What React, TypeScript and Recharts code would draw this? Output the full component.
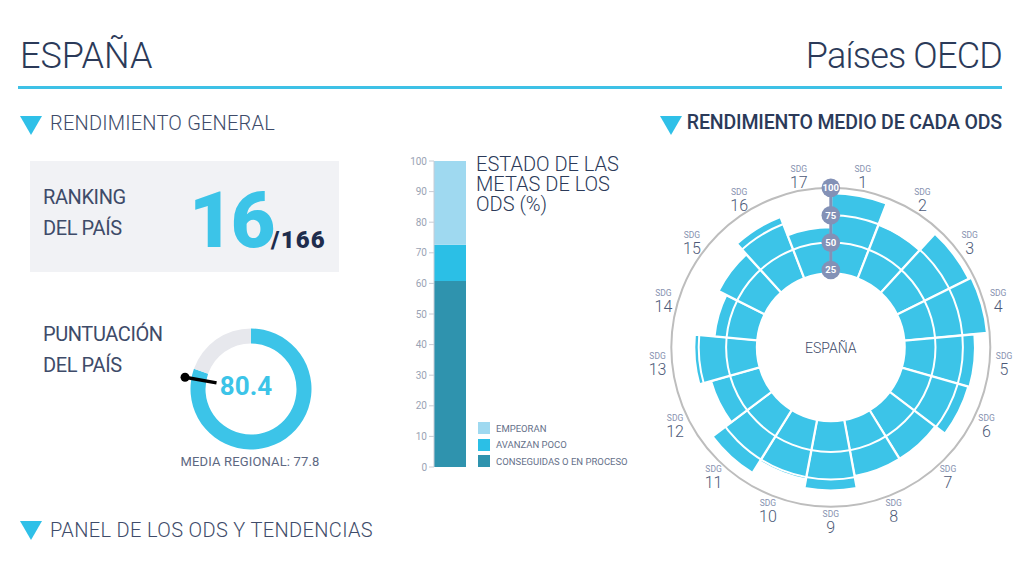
import React from 'react';
import {
  BarChart,
  Bar,
  XAxis,
  YAxis,
  PieChart,
  Pie,
  Cell,
  RadialBarChart,
  RadialBar,
  PolarAngleAxis,
  PolarRadiusAxis,
  PolarGrid,
} from 'recharts';

// headline numbers
const rankPosition = 16;
const rankTotal = 166;
const countryScore = 80.4;
const regionalAverage = 77.8;

// estado de las metas (%)
const statusKeys = ['conseguidas', 'avanzan', 'empeoran'];
const statusLabels = ['CONSEGUIDAS O EN PROCESO', 'AVANZAN POCO', 'EMPEORAN'];
const statusValues = [60.8, 11.8, 27.4];
const statusColors = ['#2f93ae', '#2bbfe6', '#9fd9f0'];
const statusTicks = [0, 10, 20, 30, 40, 50, 60, 70, 80, 90, 100];
const statusTitle = ['ESTADO DE LAS', 'METAS DE LOS', 'ODS (%)'];

// rendimiento medio de cada ODS
const sdgNames = ['1', '2', '3', '4', '5', '6', '7', '8', '9', '10', '11', '12', '13', '14', '15', '16', '17'];
const sdgScores = [95, 74.5, 95, 97.5, 86, 85, 74, 74, 85, 77, 89.5, 68, 79, 61, 69, 82, 64];
const scoreTicks = [25, 50, 75, 100];

const BLUE = '#3cc4e8';
const NAVY = '#2b3a59';
const FONT = 'Roboto, sans-serif';

const R_MIN = 22;
const R_MAX = 100;
const INNER_R = 74;
const OUTER_R = 159.5;
const ringRadius = (v: number) => INNER_R + ((v - R_MIN) / (R_MAX - R_MIN)) * (OUTER_R - INNER_R);

// each bar is drawn counter-clockwise from its tick, so turn the axis by one band
const BAND = 360 / sdgNames.length;
const RADIAL_CX = 190.8;
const RADIAL_CY = 189.3;
const LABEL_R = 174;

const statusData = [
  statusKeys.reduce((acc: any, k, i) => {
    acc[k] = statusValues[i];
    return acc;
  }, { name: 'ODS' }),
];

const gaugeData = [{ value: countryScore }, { value: 100 - countryScore }];
const needleData = [{ value: regionalAverage }, { value: 100 - regionalAverage }];

const sdgData = sdgNames.map((name, i) => ({ name, score: sdgScores[i] }));

const RAD = Math.PI / 180;

function renderNeedle(props: any) {
  const { cx, cy, endAngle, innerRadius, outerRadius, index } = props;
  if (index !== 0) return null;
  const x1 = cx + innerRadius * Math.cos(-endAngle * RAD);
  const y1 = cy + innerRadius * Math.sin(-endAngle * RAD);
  const x2 = cx + outerRadius * Math.cos(-endAngle * RAD);
  const y2 = cy + outerRadius * Math.sin(-endAngle * RAD);
  return (
    <g>
      <line x1={x1} y1={y1} x2={x2} y2={y2} stroke="#000" strokeWidth={3.5} />
      <circle cx={x2} cy={y2} r={4.5} fill="#000" />
    </g>
  );
}

function renderSdgTick(props: any) {
  const { payload } = props;
  const cx = props.cx ?? RADIAL_CX;
  const cy = props.cy ?? RADIAL_CY;
  // label sits in the middle of its wedge
  const angle = payload.coordinate + BAND / 2;
  const x = cx + LABEL_R * Math.cos(-angle * RAD);
  const y = cy + LABEL_R * Math.sin(-angle * RAD);
  return (
    <g>
      <text x={x} y={y - 4} textAnchor="middle" fontSize={8.5} fill="#8792b0" fontFamily={FONT}>
        SDG
      </text>
      <text x={x} y={y + 12} textAnchor="middle" fontSize={16} fill="#4d5a78" fontFamily={FONT} fontWeight={300}>
        {payload.value}
      </text>
    </g>
  );
}

function renderScoreTick(props: any) {
  const { x, y, payload } = props;
  return (
    <g>
      <circle cx={x} cy={y} r={9.3} fill="#8391b6" />
      <text x={x} y={y + 3.3} textAnchor="middle" fontSize={9.5} fontWeight={700} fill="#fff" fontFamily={FONT}>
        {payload.value}
      </text>
    </g>
  );
}

function Triangle({ left, top }: { left: number; top: number }) {
  return (
    <div
      style={{
        position: 'absolute',
        left,
        top,
        width: 0,
        height: 0,
        borderLeft: '11px solid transparent',
        borderRight: '11px solid transparent',
        borderTop: '19px solid #2fc0e8',
      }}
    />
  );
}

function Txt({ children, style }: { children: React.ReactNode; style: React.CSSProperties }) {
  return (
    <div style={{ position: 'absolute', lineHeight: 1, whiteSpace: 'nowrap', fontFamily: FONT, ...style }}>
      {children}
    </div>
  );
}

export default function App() {
  return (
    <div style={{ position: 'absolute', left: 0, top: 0, width: 1024, height: 576, background: '#fff', overflow: 'hidden', fontFamily: FONT }}>
      {/* header */}
      <Txt style={{ left: 20, top: 38, fontSize: 36, fontWeight: 300, color: NAVY }}>ESPAÑA</Txt>
      <Txt style={{ right: 22, top: 38, fontSize: 36, fontWeight: 300, color: NAVY, letterSpacing: -0.8 }}>Países OECD</Txt>
      <div style={{ position: 'absolute', left: 18, top: 86, width: 984, height: 3, background: '#3ec1e6' }} />

      <Triangle left={20} top={116} />
      <Txt style={{ left: 50, top: 113, fontSize: 20, fontWeight: 300, color: '#3e4b69', letterSpacing: 0.2 }}>
        RENDIMIENTO GENERAL
      </Txt>
      <Triangle left={660} top={116} />
      <Txt style={{ right: 22, top: 113, fontSize: 19.5, fontWeight: 500, color: NAVY, letterSpacing: -0.15 }}>
        RENDIMIENTO MEDIO DE CADA ODS
      </Txt>

      {/* ranking box */}
      <div style={{ position: 'absolute', left: 30, top: 161, width: 309, height: 111, background: '#f1f2f5' }} />
      <Txt style={{ left: 43, top: 187, fontSize: 20, color: '#3e4b69', letterSpacing: -0.4 }}>RANKING</Txt>
      <Txt style={{ left: 43, top: 218, fontSize: 20, color: '#3e4b69', letterSpacing: -0.4 }}>DEL PAÍS</Txt>
      <Txt style={{ left: 189, top: 183, fontSize: 77, fontWeight: 900, color: BLUE, letterSpacing: -3 }}>{rankPosition}</Txt>
      <Txt style={{ left: 271, top: 228, fontSize: 24, fontWeight: 900, color: '#1e2d4d', letterSpacing: 1.2 }}>/{rankTotal}</Txt>

      {/* score gauge */}
      <Txt style={{ left: 43, top: 324, fontSize: 20, color: '#3e4b69', letterSpacing: -0.4 }}>PUNTUACIÓN</Txt>
      <Txt style={{ left: 43, top: 355, fontSize: 20, color: '#3e4b69', letterSpacing: -0.4 }}>DEL PAÍS</Txt>
      <div style={{ position: 'absolute', left: 176, top: 314 }}>
        <PieChart width={140} height={140}>
          <Pie
            data={gaugeData}
            dataKey="value"
            cx={70}
            cy={70}
            innerRadius={45.5}
            outerRadius={60.5}
            startAngle={90}
            endAngle={-270}
            stroke="none"
            isAnimationActive={false}
          >
            <Cell fill={BLUE} />
            <Cell fill="#e7e8ed" />
          </Pie>
          <Pie
            data={needleData}
            dataKey="value"
            cx={70}
            cy={70}
            innerRadius={35}
            outerRadius={67}
            startAngle={90}
            endAngle={-270}
            fill="none"
            stroke="none"
            label={renderNeedle}
            labelLine={false}
            isAnimationActive={false}
          />
        </PieChart>
      </div>
      <Txt style={{ left: 196, width: 100, textAlign: 'center', top: 373, fontSize: 26, fontWeight: 700, color: BLUE }}>
        {countryScore.toFixed(1)}
      </Txt>
      <Txt style={{ left: 170, width: 160, textAlign: 'center', top: 455, fontSize: 13, color: '#5d6882', letterSpacing: 0.15 }}>
        MEDIA REGIONAL: {regionalAverage}
      </Txt>

      {/* estado de las metas */}
      <div style={{ position: 'absolute', left: 400, top: 150 }}>
        <BarChart width={70} height={330} data={statusData} margin={{ top: 11, right: 4, bottom: 13, left: 0 }} barCategoryGap={0}>
          <XAxis dataKey="name" height={0} tick={false} tickLine={false} axisLine={{ stroke: '#b5b9c2', strokeWidth: 2 }} />
          <YAxis
            type="number"
            domain={[0, 100]}
            ticks={statusTicks}
            interval={0}
            width={34}
            tickSize={5}
            tick={{ fontSize: 10, fill: '#9aa3b4', fontFamily: FONT }}
            tickLine={{ stroke: '#c8ccd5' }}
            axisLine={{ stroke: '#c8ccd5' }}
          />
          {statusKeys.map((k, i) => (
            <Bar key={k} dataKey={k} stackId="s" fill={statusColors[i]} isAnimationActive={false} />
          ))}
        </BarChart>
      </div>
      {statusTitle.map((line, i) => (
        <Txt key={line} style={{ left: 476, top: 154 + i * 20, fontSize: 20, fontWeight: 300, color: NAVY, letterSpacing: 0 }}>
          {line}
        </Txt>
      ))}
      {statusLabels
        .map((label, i) => ({ label, color: statusColors[i] }))
        .reverse()
        .map((item, j) => (
          <div key={item.label} style={{ position: 'absolute', left: 478, top: 422 + j * 16.5, display: 'flex', alignItems: 'center' }}>
            <div style={{ width: 12, height: 12, background: item.color }} />
            <span style={{ marginLeft: 6, fontSize: 9.5, color: '#66718a', fontFamily: FONT, whiteSpace: 'nowrap' }}>{item.label}</span>
          </div>
        ))}

      {/* radial chart */}
      <div style={{ position: 'absolute', left: 640, top: 158 }}>
        <RadialBarChart
          width={380}
          height={380}
          cx={RADIAL_CX}
          cy={RADIAL_CY}
          data={sdgData}
          layout="centric"
          startAngle={90 - BAND}
          endAngle={-270 - BAND}
          innerRadius={INNER_R}
          outerRadius={OUTER_R}
          barCategoryGap={0}
          barGap={0}
          margin={{ top: 0, right: 0, bottom: 0, left: 0 }}
        >
          <PolarGrid gridType="circle" radialLines={false} polarRadius={[ringRadius(100)]} stroke="#bdbdbd" strokeWidth={2} />
          <PolarAngleAxis dataKey="name" type="category" axisLine={false} tickLine={false} tickSize={15} tick={renderSdgTick} />
          <RadialBar dataKey="score" fill={BLUE} stroke="#fff" strokeWidth={2} isAnimationActive={false} />
          <PolarGrid
            gridType="circle"
            radialLines={false}
            polarRadius={[ringRadius(50), ringRadius(75)]}
            stroke="#fff"
            strokeWidth={2}
            zIndex={350}
          />
          <PolarRadiusAxis
            type="number"
            angle={90}
            domain={[R_MIN, R_MAX]}
            ticks={scoreTicks}
            axisLine={{ stroke: '#8391b6', strokeWidth: 3 }}
            tickLine={false}
            tick={renderScoreTick}
          />
        </RadialBarChart>
      </div>
      <Txt style={{ left: 770.8, width: 120, textAlign: 'center', top: 341, fontSize: 14, fontWeight: 300, color: '#3e4b69' }}>ESPAÑA</Txt>

      <Triangle left={20} top={521} />
      <Txt style={{ left: 50, top: 520, fontSize: 20, fontWeight: 300, color: '#3e4b69', letterSpacing: 0.35 }}>
        PANEL DE LOS ODS Y TENDENCIAS
      </Txt>
    </div>
  );
}
